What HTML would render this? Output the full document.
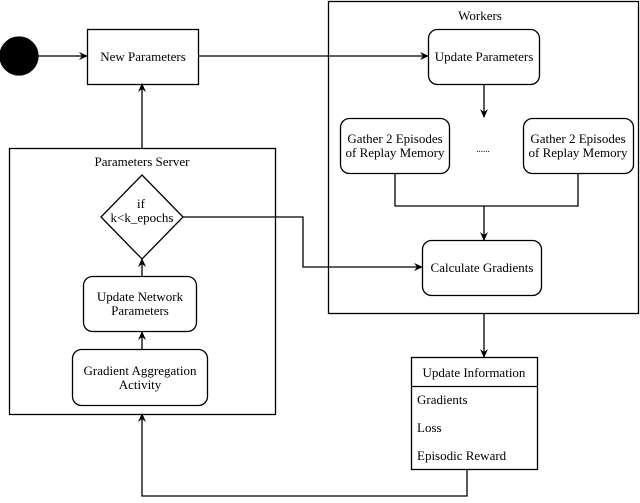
<!DOCTYPE html>
<html><head><style>
html,body{margin:0;padding:0;background:#fff;}
text{font-family:'Liberation Serif','DejaVu Serif','Times New Roman',serif;font-size:13px;fill:#000;}
</style></head><body>
<svg width="640" height="498" viewBox="0 0 640 498" xmlns="http://www.w3.org/2000/svg" font-family="Liberation Serif, DejaVu Serif, serif" font-size="13">
<defs>
<marker id="a" markerWidth="10" markerHeight="10" refX="8" refY="5" orient="auto" markerUnits="userSpaceOnUse">
<path d="M0,1 L9,5 L0,9 L3,5 Z" fill="#000"/>
</marker>
</defs>
<g fill="none" stroke="#000" stroke-width="1.3">
<circle cx="19" cy="56" r="19" fill="#000"/>
<line x1="38" y1="56" x2="87" y2="56" marker-end="url(#a)"/>
<rect x="87.5" y="29.5" width="111" height="55" fill="#fff"/>
<rect x="328.5" y="1.5" width="310" height="312"/>
<line x1="198" y1="56" x2="428" y2="56" marker-end="url(#a)"/>
<rect x="428.5" y="29.5" width="111" height="55" rx="9"/>
<line x1="484" y1="84" x2="484" y2="117" marker-end="url(#a)"/>
<rect x="340.5" y="118.5" width="109" height="55" rx="9"/>
<rect x="523.5" y="118.5" width="110" height="55" rx="9"/>
<polyline points="395,173 395,206 578,206 578,173"/>
<line x1="484" y1="206" x2="484" y2="240" marker-end="url(#a)"/>
<rect x="422.5" y="240.5" width="119" height="55" rx="9"/>
<rect x="9.5" y="148.5" width="266" height="266"/>
<polygon points="142,175 183,217 142,259 101,217" fill="#fff"/>
<polyline points="183,217 303,217 303,267 422,267" marker-end="url(#a)"/>
<rect x="83.5" y="276.5" width="113" height="55" rx="9"/>
<line x1="142" y1="276" x2="142" y2="259" marker-end="url(#a)"/>
<rect x="72.5" y="349.5" width="135" height="56" rx="9"/>
<line x1="142" y1="349" x2="142" y2="332" marker-end="url(#a)"/>
<line x1="142" y1="148" x2="142" y2="84" marker-end="url(#a)"/>
<line x1="484" y1="313" x2="484" y2="357" marker-end="url(#a)"/>
<rect x="411.5" y="357.5" width="126" height="112"/>
<line x1="411" y1="386.5" x2="537" y2="386.5"/>
<polyline points="467,469 467,496 142,496 142,414" marker-end="url(#a)"/>
</g>
<g text-anchor="middle">
<text x="143" y="61">New Parameters</text>
<text x="480" y="20">Workers</text>
<text x="484" y="61">Update Parameters</text>
<text x="395" y="143">Gather 2 Episodes</text>
<text x="395" y="157">of Replay Memory</text>
<text x="578" y="143">Gather 2 Episodes</text>
<text x="578" y="157">of Replay Memory</text>
<text x="483" y="152" style="font-size:9px">......</text>
<text x="482" y="272">Calculate Gradients</text>
<text x="142" y="166">Parameters Server</text>
<text x="141" y="208">if</text>
<text x="142" y="222">k&lt;k_epochs</text>
<text x="140" y="301">Update Network</text>
<text x="140" y="315">Parameters</text>
<text x="140" y="375">Gradient Aggregation</text>
<text x="140" y="389">Activity</text>
<text x="474" y="377">Update Information</text>
</g>
<text x="417" y="404">Gradients</text>
<text x="417" y="432">Loss</text>
<text x="417" y="460">Episodic Reward</text>
</svg>
</body></html>
